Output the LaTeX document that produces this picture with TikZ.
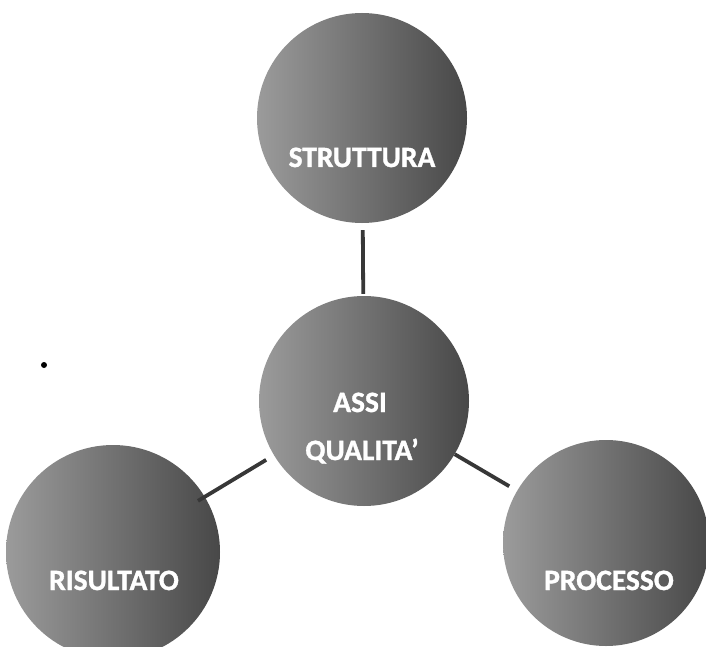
\documentclass[tikz,border=0pt]{standalone}
\usepackage{fontspec}
\setmainfont{Carlito}
\newfontfamily\labfont[FakeBold=1.2]{Carlito Bold}
\definecolor{ballL}{RGB}{155,155,155}
\definecolor{ballM}{RGB}{112,112,112}
\definecolor{ballR}{RGB}{72,72,72}
\definecolor{lineGray}{RGB}{55,55,55}
\begin{document}
\begin{tikzpicture}[x=1pt,y=-1pt,
  ball/.style={circle, inner sep=0pt, minimum size=#1, draw=none,
    left color=ballL, middle color=ballM, right color=ballR},
  lab/.style={text=white, anchor=base, inner sep=0pt,
    font=\fontsize{29.5}{34}\labfont},
  conn/.style={draw=lineGray, line width=3.8pt}]
\useasboundingbox (0,0) rectangle (706,647);
\fill[white] (0,0) rectangle (706,647);
\clip (0,0) rectangle (706,647);
% circles
\node[ball=210pt] (T)  at (362,118) {};
\node[ball=210pt] (C)  at (364,401) {};
\node[ball=214pt] (BL) at (113,552) {};
\node[ball=206pt] (BR) at (606,543) {};
% labels
\node[lab] (tT)  at (362,167) {STRUTTURA};
\node[lab] (tC1) at (360,412) {ASSI};
\node[lab] (tC2) at (362,460) {QUALITA’};
\node[lab] (tBL) at (114,590) {RISULTATO};
\node[lab] (tBR) at (609,590) {PROCESSO};
% connectors
\draw[conn, shorten <=7pt, shorten >=2pt] (T) -- (C);
\draw[conn, shorten <=9pt, shorten >=-8pt] (C) -- (BL);
\draw[conn, shorten <=0pt, shorten >=9pt] (C) -- (BR);
% scan speck
\fill[black] (44,365) circle (3pt);
\end{tikzpicture}
\end{document}
